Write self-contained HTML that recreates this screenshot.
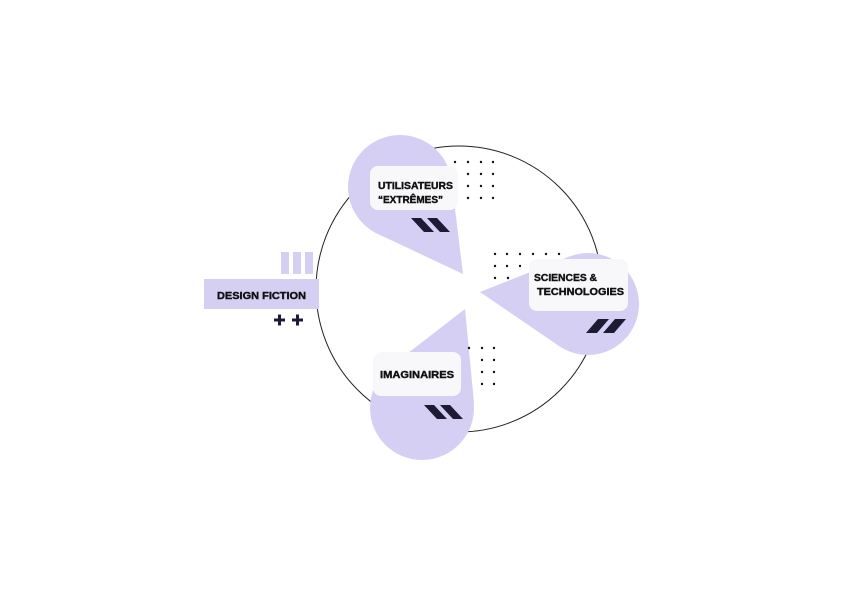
<!DOCTYPE html>
<html><head><meta charset="utf-8"><style>
body{margin:0;background:#fff;}
svg{display:block}
text{font-family:"Liberation Sans",sans-serif;font-weight:bold;fill:#111;stroke:#111;stroke-width:0.4;}
</style></head><body>
<svg width="842" height="595" viewBox="0 0 842 595" xmlns="http://www.w3.org/2000/svg">
<rect width="842" height="595" fill="#fff"/>
<circle cx="459" cy="289" r="143" fill="none" stroke="#222" stroke-width="1"/>
<g fill="#d4cff3">
<circle cx="400" cy="187" r="52"/>
<polygon points="378,234 463,274 451.6,180.8"/>
<circle cx="588" cy="304" r="51"/>
<polygon points="569,256.6 480,292 559,346"/>
<circle cx="422" cy="408" r="52"/>
<polygon points="474,403 465,309 390,367"/>
<rect x="204" y="279" width="115" height="30"/>
<rect x="281" y="252" width="8" height="22"/>
<rect x="293" y="252" width="8" height="22"/>
<rect x="305" y="252" width="8" height="22"/>
</g>
<g fill="#111">
<circle cx="455" cy="162" r="1.2"/><circle cx="468" cy="162" r="1.2"/><circle cx="481" cy="162" r="1.2"/><circle cx="493" cy="162" r="1.2"/>
<circle cx="468" cy="174" r="1.2"/><circle cx="481" cy="174" r="1.2"/><circle cx="493" cy="174" r="1.2"/>
<circle cx="468" cy="186" r="1.2"/><circle cx="481" cy="186" r="1.2"/><circle cx="493" cy="186" r="1.2"/>
<circle cx="468" cy="198" r="1.2"/><circle cx="481" cy="198" r="1.2"/><circle cx="493" cy="198" r="1.2"/>
<circle cx="495" cy="254" r="1.2"/><circle cx="507" cy="254" r="1.2"/><circle cx="520" cy="254" r="1.2"/><circle cx="533" cy="254" r="1.2"/><circle cx="546" cy="254" r="1.2"/><circle cx="559" cy="254" r="1.2"/>
<circle cx="495" cy="266" r="1.2"/><circle cx="507" cy="266" r="1.2"/><circle cx="520" cy="266" r="1.2"/>
<circle cx="495" cy="278" r="1.2"/><circle cx="508" cy="278" r="1.2"/>
<circle cx="469" cy="348" r="1.2"/><circle cx="482" cy="348" r="1.2"/><circle cx="494" cy="348" r="1.2"/>
<circle cx="482" cy="360" r="1.2"/><circle cx="494" cy="360" r="1.2"/>
<circle cx="482" cy="372" r="1.2"/><circle cx="494" cy="372" r="1.2"/>
<circle cx="482" cy="384" r="1.2"/><circle cx="494" cy="384" r="1.2"/>
</g>
<g fill="#f8f8fb">
<rect x="370" y="166" width="88" height="44" rx="8"/>
<rect x="529" y="259" width="99" height="52" rx="8"/>
<rect x="373" y="352" width="88" height="44" rx="8"/>
</g>
<g fill="#1c1b33">
<polygon points="411,218 421,218 434,232 424,232"/>
<polygon points="427,218 437,218 450,232 440,232"/>
<polygon points="598,319 609,319 597,333 586,333"/>
<polygon points="615,319 626,319 614,333 603,333"/>
<polygon points="424,405 434,405 447,419 437,419"/>
<polygon points="440,405 450,405 463,419 453,419"/>
<rect x="274" y="318.5" width="11" height="3"/><rect x="278" y="314.5" width="3" height="11"/>
<rect x="292" y="318.5" width="11" height="3"/><rect x="296" y="314.5" width="3" height="11"/>
</g>
<text x="378" y="189" font-size="10" textLength="75" lengthAdjust="spacingAndGlyphs">UTILISATEURS</text>
<text x="378" y="203" font-size="10" textLength="65" lengthAdjust="spacingAndGlyphs">“EXTRÊMES”</text>
<text x="534" y="281" font-size="10" textLength="63" lengthAdjust="spacingAndGlyphs">SCIENCES &amp;</text>
<text x="537" y="295" font-size="10" textLength="87" lengthAdjust="spacingAndGlyphs">TECHNOLOGIES</text>
<text x="380" y="378" font-size="10" textLength="74" lengthAdjust="spacingAndGlyphs">IMAGINAIRES</text>
<text x="217" y="299" font-size="10.5" textLength="89" lengthAdjust="spacingAndGlyphs">DESIGN FICTION</text>
</svg>
</body></html>
